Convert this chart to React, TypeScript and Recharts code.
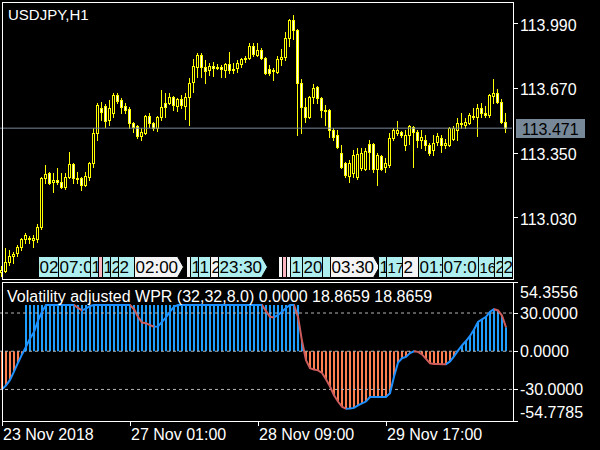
import React from 'react';
import { ComposedChart, Bar, Line, XAxis, YAxis, ReferenceLine, ReferenceArea, Cell } from 'recharts';

const FONT = '"Liberation Sans", Arial, sans-serif';

// ---------- price data (USDJPY H1) ----------
const opens = [
  112.759, 112.764, 112.809, 112.838, 112.853, 112.883, 112.922, 112.927, 112.917, 112.922,
  112.982, 113.224, 113.249, 113.204, 113.214, 113.204, 113.180, 113.229, 113.294, 113.224,
  113.224, 113.190, 113.229, 113.298, 113.447, 113.571, 113.580, 113.511, 113.546, 113.635,
  113.610, 113.580, 113.566, 113.496, 113.482, 113.432, 113.447, 113.531, 113.496, 113.472,
  113.526, 113.595, 113.595, 113.625, 113.580, 113.615, 113.580, 113.625, 113.699, 113.773,
  113.833, 113.773, 113.759, 113.778, 113.769, 113.773, 113.759, 113.788, 113.759, 113.769,
  113.788, 113.813, 113.818, 113.877, 113.833, 113.858, 113.818, 113.764, 113.754, 113.749,
  113.813, 113.823, 113.917, 114.006, 113.957, 113.694, 113.576, 113.526, 113.625, 113.675,
  113.620, 113.561, 113.561, 113.462, 113.437, 113.348, 113.298, 113.234, 113.249, 113.229,
  113.274, 113.269, 113.392, 113.392, 113.269, 113.333, 113.279, 113.289, 113.422, 113.447,
  113.452, 113.387, 113.437, 113.477, 113.452, 113.412, 113.412, 113.387, 113.363, 113.402,
  113.422, 113.387, 113.387, 113.417, 113.462, 113.491, 113.486, 113.496, 113.531, 113.526,
  113.571, 113.546, 113.536, 113.630, 113.645, 113.600, 113.501,
];
const highs = [
  112.789, 112.878, 112.868, 112.858, 112.893, 112.927, 112.952, 112.937, 112.942, 112.997,
  113.229, 113.289, 113.254, 113.249, 113.274, 113.249, 113.249, 113.353, 113.298, 113.254,
  113.229, 113.254, 113.303, 113.472, 113.595, 113.600, 113.590, 113.610, 113.645, 113.645,
  113.620, 113.595, 113.576, 113.501, 113.486, 113.472, 113.536, 113.546, 113.501, 113.531,
  113.660, 113.645, 113.645, 113.630, 113.620, 113.635, 113.645, 113.719, 113.813, 113.843,
  113.843, 113.808, 113.793, 113.798, 113.788, 113.783, 113.793, 113.848, 113.793, 113.808,
  113.818, 113.828, 113.892, 113.892, 113.892, 113.868, 113.823, 113.783, 113.769, 113.828,
  113.863, 113.947, 114.011, 114.031, 113.962, 113.714, 113.620, 113.630, 113.689, 113.679,
  113.625, 113.585, 113.566, 113.472, 113.462, 113.387, 113.303, 113.313, 113.363, 113.373,
  113.373, 113.373, 113.412, 113.397, 113.348, 113.338, 113.323, 113.447, 113.472, 113.506,
  113.457, 113.462, 113.486, 113.482, 113.462, 113.462, 113.437, 113.397, 113.437, 113.447,
  113.437, 113.417, 113.477, 113.482, 113.521, 113.546, 113.521, 113.546, 113.571, 113.590,
  113.595, 113.580, 113.640, 113.714, 113.665, 113.615, 113.546,
];
const lows = [
  112.739, 112.759, 112.794, 112.804, 112.838, 112.868, 112.903, 112.903, 112.883, 112.908,
  112.972, 113.200, 113.195, 113.155, 113.195, 113.175, 113.170, 113.224, 113.200, 113.200,
  113.165, 113.185, 113.214, 113.279, 113.412, 113.511, 113.477, 113.486, 113.526, 113.595,
  113.546, 113.546, 113.472, 113.452, 113.422, 113.412, 113.442, 113.477, 113.462, 113.457,
  113.511, 113.526, 113.590, 113.561, 113.556, 113.571, 113.516, 113.486, 113.650, 113.724,
  113.724, 113.694, 113.734, 113.729, 113.764, 113.724, 113.724, 113.744, 113.744, 113.749,
  113.773, 113.798, 113.813, 113.828, 113.828, 113.813, 113.739, 113.734, 113.709, 113.744,
  113.783, 113.808, 113.877, 113.912, 113.437, 113.447, 113.501, 113.521, 113.595, 113.595,
  113.526, 113.486, 113.427, 113.412, 113.373, 113.274, 113.229, 113.204, 113.229, 113.219,
  113.264, 113.264, 113.269, 113.254, 113.190, 113.264, 113.254, 113.279, 113.412, 113.437,
  113.427, 113.363, 113.392, 113.279, 113.378, 113.373, 113.363, 113.338, 113.338, 113.387,
  113.353, 113.373, 113.383, 113.412, 113.412, 113.472, 113.472, 113.491, 113.516, 113.432,
  113.526, 113.526, 113.526, 113.595, 113.595, 113.496, 113.452,
];
const closes = [
  112.769, 112.809, 112.838, 112.848, 112.883, 112.922, 112.942, 112.922, 112.927, 112.982,
  113.224, 113.244, 113.200, 113.214, 113.204, 113.180, 113.229, 113.294, 113.224, 113.219,
  113.190, 113.234, 113.298, 113.447, 113.585, 113.551, 113.506, 113.571, 113.635, 113.605,
  113.576, 113.561, 113.496, 113.477, 113.432, 113.452, 113.531, 113.496, 113.472, 113.526,
  113.576, 113.576, 113.625, 113.585, 113.615, 113.585, 113.625, 113.694, 113.778, 113.833,
  113.773, 113.754, 113.778, 113.769, 113.773, 113.764, 113.788, 113.759, 113.764, 113.793,
  113.813, 113.818, 113.877, 113.838, 113.858, 113.818, 113.744, 113.744, 113.759, 113.813,
  113.823, 113.917, 114.006, 113.957, 113.694, 113.576, 113.526, 113.625, 113.670, 113.620,
  113.561, 113.556, 113.462, 113.427, 113.378, 113.279, 113.239, 113.298, 113.338, 113.343,
  113.348, 113.358, 113.353, 113.269, 113.338, 113.269, 113.298, 113.422, 113.462, 113.462,
  113.437, 113.437, 113.482, 113.452, 113.412, 113.427, 113.387, 113.348, 113.397, 113.432,
  113.387, 113.397, 113.472, 113.472, 113.496, 113.496, 113.501, 113.536, 113.526, 113.571,
  113.546, 113.536, 113.635, 113.645, 113.600, 113.501, 113.471,
];

// ---------- indicator data ----------
const wprLine = [
  -29.8, -27, -22.5, -16, -9, -2.5, 3.5, 10, 15, 24,
  31, 36.3, 36.3, 36.3, 36.3, 36.3, 36.3, 36.3, 36.3, 34,
  32, 33.5, 35.5, 36.3, 36.3, 36.3, 36.3, 36.3, 36.3, 36.3,
  36.3, 36.3, 36.3, 33, 27, 22.5, 22, 20.5, 19.3, 19.5,
  23, 26.5, 31, 35, 36.3, 36.3, 36.3, 36.3, 36.3, 36.3,
  36.3, 36.3, 36.3, 36.3, 36.3, 36.3, 36.3, 36.3, 36.3, 36.3,
  36.3, 36.3, 36.3, 36.3, 36.3, 36.3, 31.5, 27, 26.5, 28.5,
  31, 34, 36.3, 36.3, 27, 8, -7, -13.3, -14.3, -15,
  -17, -22, -27.7, -34.5, -39.5, -43.5, -45.2, -45, -44.5, -42.5,
  -41, -39.5, -36, -36, -36, -36, -36, -33, -20, -9,
  -5.5, -4.5, -1.5, 0, -0.5, -2.5, -6, -9.5, -10, -10.1,
  -10.2, -10.3, -8, -4, 0.5, 4.5, 8, 12, 17, 23,
  25, 27, 31, 33, 32, 28, 18.8659,
];
const wprHist = [
  -29.8, -27, -22.5, -16, -9, -2.5, 36.3, 36.3, 36.3, 36.3,
  36.3, 36.3, 36.3, 36.3, 36.3, 36.3, 36.3, 36.3, 36.3, 36.3,
  36.3, 36.3, 36.3, 36.3, 36.3, 36.3, 36.3, 36.3, 36.3, 36.3,
  36.3, 36.3, 36.3, 36.3, 36.3, 36.3, 36.3, 36.3, 36.3, 36.3,
  36.3, 36.3, 36.3, 36.3, 36.3, 36.3, 36.3, 36.3, 36.3, 36.3,
  36.3, 36.3, 36.3, 36.3, 36.3, 36.3, 36.3, 36.3, 36.3, 36.3,
  36.3, 36.3, 36.3, 36.3, 36.3, 36.3, 36.3, 36.3, 36.3, 36.3,
  36.3, 36.3, 36.3, 36.3, 36.3, 8, -7, -13.3, -14.3, -15,
  -17, -22, -27.7, -34.5, -39.5, -43.5, -45.2, -45, -44.5, -42.5,
  -41, -39.5, -36, -36, -36, -36, -36, -33, -20, -9,
  -5.5, -4.5, -1.5, 0, -0.5, -2.5, -6, -9.5, -10, -10.1,
  -10.2, -10.3, -8, -4, 0.5, 4.5, 8, 12, 17, 23,
  25, 27, 31, 33, 32, 28, 18.8659,
];

// ---------- axes / labels ----------
const priceMin = 112.72;
const priceMax = 114.095;
const priceTicks = [113.99, 113.67, 113.35, 113.03];
const bidPrice = 113.471;
const wprMin = -54.7785;
const wprMax = 54.3556;
const wprTicks = [54.3556, 30, 0, -30, -54.7785];
const wprLevels = [30, 0, -30];
const dateTickIdx = [0, 32, 64, 96];
const dateTickLabels = ['23 Nov 2018', '27 Nov 01:00', '28 Nov 09:00', '29 Nov 17:00'];
const chartTitle = 'USDJPY,H1';
const indTitle = 'Volatility adjusted WPR (32,32,8.0) 0.0000 18.8659 18.8659';

// overlapping time tags near the bottom of the price panel (visible text only)
const tagIdx = [9, 14, 22, 24, 25, 27, 29, 33, 46, 47, 49, 52, 54, 69, 70, 71, 72, 75, 80, 82, 94, 96, 100, 104, 110, 119, 123, 125];
const tagText = ['02', '07:0', '1', '', '1', '2', '2', '02:00', '', '1', '1', '2', '23:30', '', '', '', '1', '20', '', '03:30', '1', '17', '2', '01:', '07:0', '16', '2', '2'];
const tagKind = ['c', 'c', 'c', 'p', 'c', 'c', 'c', 'w', 'w', 'c', 'c', 'w', 'c', 'w', 'p', 'w', 'c', 'c', 'c', 'w', 'c', 'c', 'w', 'c', 'c', 'c', 'c', 'c'];
const tagTop = 112.839;
const tagBottom = 112.735;

const TAG_FILL: Record<string, string> = { c: '#AFEEEE', w: '#F4F4F4', p: '#FFB6C1' };
const TAG_FONT = 17;
const BAR_BLUE = '#1E9FFF';
const BAR_ORANGE = '#FF7F50';
const LINE_BLUE = '#1E90FF';
const LINE_RED = '#CD5C5C';

const candles = opens.map((o, i) => ({ i, o, h: highs[i], l: lows[i], c: closes[i] }));
const ind = wprLine.map((v, i) => ({ i, line: v, hist: wprHist[i] }));

const gradStops: React.ReactNode[] = [];
for (let k = 0; k < wprLine.length - 1; k++) {
  const col = wprLine[k + 1] >= wprLine[k] ? LINE_BLUE : LINE_RED;
  const n = wprLine.length - 1;
  gradStops.push(<stop key={`a${k}`} offset={k / n} stopColor={col} />);
  gradStops.push(<stop key={`b${k}`} offset={(k + 1) / n} stopColor={col} />);
}

// number of bars to the next tag that carries text
const tagSpan = tagIdx.map((ti, k) => {
  for (let j = k + 1; j < tagIdx.length; j++) {
    if (tagText[j]) return tagIdx[j] - ti;
  }
  return 99;
});

function Candle(props: any) {
  const { x, y, width, height, payload } = props;
  if (!payload || y == null || height == null) return null;
  const top = Math.min(y, y + height);
  const bot = Math.max(y, y + height);
  const range = payload.h - payload.l;
  const k = range > 0 ? (bot - top) / range : 0;
  const py = (p: number) => top + (payload.h - p) * k;
  const cx = Math.floor(x + width / 2) + 0.5;
  const bTop = Math.round(py(Math.max(payload.o, payload.c))) + 0.5;
  const bBot = Math.round(py(Math.min(payload.o, payload.c))) + 0.5;
  const bull = payload.c >= payload.o;
  return (
    <g shapeRendering="crispEdges">
      <line x1={cx} x2={cx} y1={Math.round(top)} y2={Math.round(bot) + 1} stroke="#FFFF00" strokeWidth={1} />
      {bBot - bTop < 1 ? (
        <line x1={cx - 1.5} x2={cx + 1.5} y1={bTop} y2={bTop} stroke="#FFFF00" strokeWidth={1} />
      ) : (
        <rect x={cx - 1} y={bTop} width={2} height={bBot - bTop} fill={bull ? '#000000' : '#FFFFFF'} stroke="#FFFF00" strokeWidth={1} />
      )}
    </g>
  );
}

function PriceTick(props: any) {
  const { x, y, payload } = props;
  const yy = Math.round(y) + 0.5;
  return (
    <g>
      <line x1={x + 1} x2={x + 6} y1={yy} y2={yy} stroke="#FFFFFF" shapeRendering="crispEdges" />
      <text x={x + 8} y={y + 7.5} fill="#FFFFFF" fontSize={16} fontFamily={FONT}>{Number(payload.value).toFixed(3)}</text>
    </g>
  );
}

function WprTick(props: any) {
  const { x, y, payload, index } = props;
  const yy = Math.round(y) + 0.5;
  let ty = y + 6;
  if (index === 0) ty = y + 16;
  if (index === wprTicks.length - 1) ty = y - 3.5;
  return (
    <g>
      <line x1={x + 1} x2={x + 6} y1={yy} y2={yy} stroke="#FFFFFF" shapeRendering="crispEdges" />
      <text x={x + 8} y={ty} fill="#FFFFFF" fontSize={16} fontFamily={FONT}>{Number(payload.value).toFixed(4)}</text>
    </g>
  );
}

function DateTick(props: any) {
  const { x, y, payload } = props;
  const pos = dateTickIdx.indexOf(payload.value);
  const xx = Math.round(x) + 0.5;
  return (
    <g>
      <line x1={xx} x2={xx} y1={y} y2={y + 5} stroke="#FFFFFF" shapeRendering="crispEdges" />
      <text x={x + 1} y={y + 19} fill="#FFFFFF" fontSize={16} fontFamily={FONT}>{dateTickLabels[pos] ?? ''}</text>
    </g>
  );
}

function BidLabel(props: any) {
  const vb = props.viewBox || {};
  const right = (vb.x ?? 0) + (vb.width ?? 0);
  const cy = Math.round(vb.y ?? 0);
  return (
    <g>
      <rect x={right + 4} y={cy - 9} width={69} height={19} fill="#778899" shapeRendering="crispEdges" />
      <text x={right + 10} y={cy + 7} fill="#000000" fontSize={16} fontFamily={FONT}>{bidPrice.toFixed(3)}</text>
    </g>
  );
}

const estWidth = (s: string, size: number) => {
  let w = 0;
  for (const ch of s) w += ch === ':' ? 0.278 : 0.556;
  return w * size;
};

const makeTagShape = (text: string, fill: string, span: number) => (p: any) => {
  const left = Math.round(p.x + p.width / 2) + 0.5;
  const top = Math.round(Math.min(p.y, p.y + p.height)) + 0.5;
  const h = Math.round(Math.abs(p.height));
  const w = 49;
  const pts = `${left},${top} ${left + w - 6},${top} ${left + w},${top + h / 2} ${left + w - 6},${top + h} ${left},${top + h}`;
  const avail = span * p.width - 2.5;
  const est = estWidth(text, TAG_FONT);
  const size = text && est > avail + 4.5 ? Math.floor(((TAG_FONT * (avail + 3)) / est) * 10) / 10 : TAG_FONT;
  return (
    <g clipPath={p.clipPath}>
      <polygon points={pts} fill={fill} stroke="#000000" strokeWidth={1} />
      {text ? (
        <text x={left + 1} y={top + 16.5} fill="#000000" fontSize={size} fontFamily={FONT}>{text}</text>
      ) : null}
    </g>
  );
};

export default function App() {
  return (
    <div style={{ position: 'absolute', left: 0, top: 0, width: 600, height: 450, background: '#000000', overflow: 'hidden' }}>
      <svg width={0} height={0} style={{ position: 'absolute' }}>
        <defs>
          <linearGradient id="wprGrad" x1="0" y1="0" x2="1" y2="0">
            {gradStops}
          </linearGradient>
        </defs>
      </svg>

      <div style={{ position: 'absolute', left: 0, top: 0 }}>
        <ComposedChart width={600} height={282} data={candles} margin={{ top: 2, right: 0, bottom: 2, left: 0 }}>
          <XAxis dataKey="i" type="category" hide padding={{ left: 0, right: 4 }} />
          <YAxis
            orientation="right"
            width={88}
            domain={[priceMin, priceMax]}
            allowDataOverflow
            ticks={priceTicks}
            interval={0}
            axisLine={false}
            tickLine={false}
            tickSize={0}
            tickMargin={0}
            tick={<PriceTick />}
          />
          <ReferenceLine y={bidPrice} stroke="#778899" strokeWidth={1} label={<BidLabel />} />
          <Bar dataKey={(d: any) => [d.l, d.h]} shape={<Candle />} isAnimationActive={false} />
          {tagIdx.map((ti, k) => (
            <ReferenceArea
              key={`tag${k}`}
              x1={ti}
              x2={ti}
              y1={tagBottom}
              y2={tagTop}
              ifOverflow="hidden"
              shape={makeTagShape(tagText[k], TAG_FILL[tagKind[k]], tagSpan[k])}
            />
          ))}
        </ComposedChart>
      </div>

      <div style={{ position: 'absolute', left: 0, top: 282 }}>
        <ComposedChart width={600} height={168} data={ind} margin={{ top: 0, right: 0, bottom: 0, left: 0 }}>
          <XAxis
            dataKey="i"
            type="category"
            padding={{ left: 0, right: 4 }}
            height={29}
            ticks={dateTickIdx}
            interval={0}
            axisLine={false}
            tickLine={false}
            tickSize={0}
            tickMargin={0}
            tick={<DateTick />}
          />
          <YAxis
            orientation="right"
            width={88}
            domain={[wprMin, wprMax]}
            allowDataOverflow
            ticks={wprTicks}
            interval={0}
            axisLine={false}
            tickLine={false}
            tickSize={0}
            tickMargin={0}
            tick={<WprTick />}
          />
          {wprLevels.map((lv) => (
            <ReferenceLine key={`lv${lv}`} y={lv} stroke="#B4B4B4" strokeDasharray="3 3" strokeWidth={1} />
          ))}
          <Bar dataKey="hist" barSize={2} isAnimationActive={false}>
            {ind.map((d) => (
              <Cell key={`c${d.i}`} fill={d.hist >= 0 ? BAR_BLUE : BAR_ORANGE} />
            ))}
          </Bar>
          <Line dataKey="line" type="linear" stroke="url(#wprGrad)" strokeWidth={2} dot={false} activeDot={false} isAnimationActive={false} />
        </ComposedChart>
      </div>

      <svg width={600} height={450} style={{ position: 'absolute', left: 0, top: 0, pointerEvents: 'none' }}>
        <rect x={2.5} y={2.5} width={511} height={277} fill="none" stroke="#FFFFFF" strokeWidth={1} shapeRendering="crispEdges" />
        <rect x={2.5} y={282.5} width={511} height={139} fill="none" stroke="#FFFFFF" strokeWidth={1} shapeRendering="crispEdges" />
        <text x={8} y={20} fill="#FFFFFF" fontSize={15} fontFamily={FONT}>{chartTitle}</text>
        <text x={7} y={301.5} fill="#FFFFFF" fontSize={16} fontFamily={FONT}>{indTitle}</text>
      </svg>
    </div>
  );
}
